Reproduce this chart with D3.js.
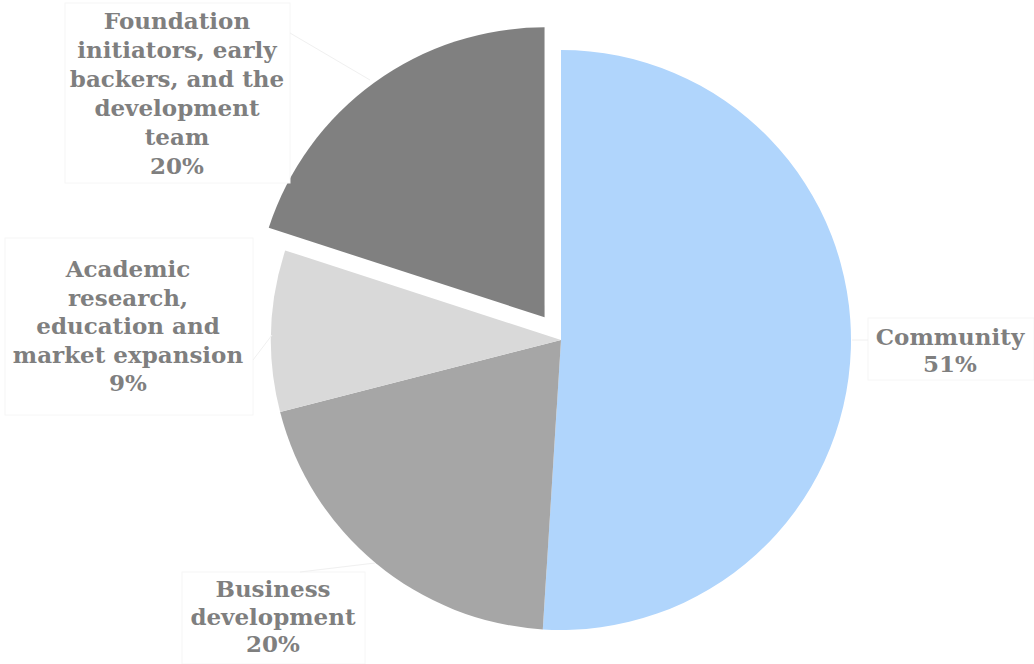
<!DOCTYPE html>
<html>
<head>
<meta charset="utf-8">
<script src="https://cdn.jsdelivr.net/npm/d3@7"></script>
<style>
  body { margin: 0; background: #fff; }
  text { font-family: "DejaVu Serif", Georgia, serif; font-weight: bold; fill: #7f7f7f; }
</style>
</head>
<body>
<script>
// slice data, clockwise from 12 o'clock
var categories = ["Community", "Business development", "Academic research, education and market expansion", "Foundation initiators, early backers, and the development team"];
var values = [51, 20, 9, 20];
var colors = ["#b0d5fc", "#a6a6a6", "#d9d9d9", "#808080"];
// wrapped label lines as they appear on the chart
var labelLines = [
    ["Community"],
    ["Business", "development"],
    ["Academic", "research,", "education and", "market expansion"],
    ["Foundation", "initiators, early", "backers, and the", "development", "team"]
];
var exploded = [0, 0, 0, 1];

var width = 1034, height = 664;
var cx = 561, cy = 340, radius = 290, explodeBy = 28;

// label box layout (center x, first baseline, box)
var labelLayout = [
    {x: 950, y: 345, lh: 27, box: [868, 318, 166, 62], leader: [[868, 340], [852, 340]]},
    {x: 273, y: 597, lh: 27.5, box: [182, 572, 183, 92], leader: [[300, 572], [375, 563]]},
    {x: 128, y: 277, lh: 28.5, box: [5, 238, 248, 177], leader: [[253, 360], [272, 335]]},
    {x: 177, y: 29, lh: 29, box: [65, 3, 225, 180], leader: [[290, 33], [370, 80]]}
];

var svg = d3.select("body")
    .append("svg")
    .attr("width", width)
    .attr("height", height);

var pie = d3.pie().sort(null).value(function(d) { return d; });
var arcs = pie(values);

var arc = d3.arc().innerRadius(0).outerRadius(radius);

var g = svg.append("g")
    .attr("transform", "translate(" + cx + "," + cy + ")");

g.selectAll("path")
    .data(arcs)
    .enter().append("path")
        .attr("d", arc)
        .attr("fill", function(d, i) { return colors[i]; })
        .attr("transform", function(d, i) {
            var a = (d.startAngle + d.endAngle) / 2;
            var k = exploded[i] * explodeBy;
            return "translate(" + (Math.sin(a) * k) + "," + (-Math.cos(a) * k) + ")";
        });

// label boxes + faint leaders
var labels = svg.selectAll("g.label")
    .data(arcs)
    .enter().append("g")
    .attr("class", "label");

labels.append("rect")
    .attr("x", function(d, i) { return labelLayout[i].box[0]; })
    .attr("y", function(d, i) { return labelLayout[i].box[1]; })
    .attr("width", function(d, i) { return labelLayout[i].box[2]; })
    .attr("height", function(d, i) { return labelLayout[i].box[3]; })
    .attr("fill", "#fff")
    .attr("stroke", "#f6f6f6")
    .attr("stroke-width", 1);

labels.append("path")
    .attr("d", function(d, i) { return d3.line()(labelLayout[i].leader); })
    .attr("stroke", "#f0f0f0")
    .attr("fill", "none");

labels.each(function(d, i) {
    var lay = labelLayout[i];
    var lines = labelLines[i].concat([values[i] + "%"]);
    var t = d3.select(this).append("text")
        .attr("text-anchor", "middle")
        .attr("font-size", 23);
    lines.forEach(function(s, j) {
        t.append("tspan")
            .attr("x", lay.x)
            .attr("y", lay.y + j * lay.lh)
            .text(s);
    });
});
</script>
</body>
</html>
